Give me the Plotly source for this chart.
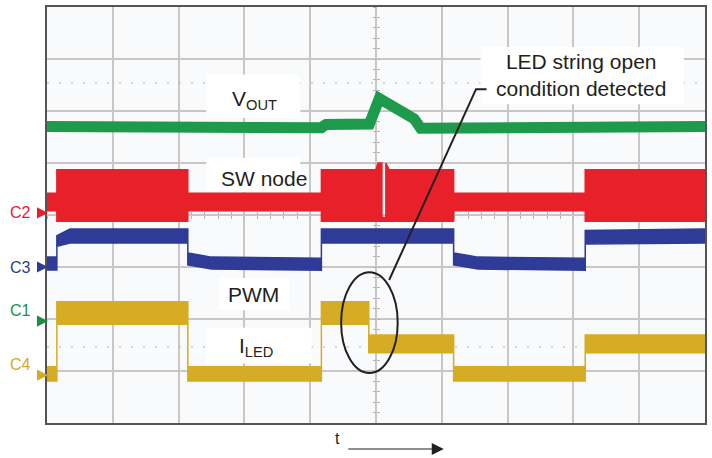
import plotly.graph_objects as go

# scope screen: 10 divisions across, 8 divisions high
# VOUT (green) - centre of the trace band
GRN_X = [0, 0.15, 4.17, 4.24, 4.9, 5.05, 5.58, 5.68, 8.23, 8.26, 10]
GRN_Y = [5.70, 5.70, 5.68, 5.74, 5.75, 6.24, 5.85, 5.67, 5.66, 5.70, 5.70]

# SW node (red) - envelope of the switching band
RED_X = [0, 0.15, 0.15, 2.14, 2.14, 4.17, 4.17, 5.0, 5.03, 5.09, 5.09, 5.15, 5.15, 5.2, 6.18, 6.18, 8.18, 8.18, 10]
RED_TOP = [4.42, 4.42, 4.87, 4.87, 4.42, 4.42, 4.87, 4.87, 5.0, 5.0, 3.95, 3.95, 5.0, 4.87, 4.87, 4.42, 4.42, 4.87, 4.87]
RED_BOT = [4.08, 4.08, 3.88, 3.88, 4.08, 4.08, 3.88, 3.88, 3.88, 3.88, 3.88, 3.88, 3.88, 3.88, 3.88, 4.08, 4.08, 3.88, 3.88]

# PWM (blue)
BLU_X = [0, 0.15, 0.15, 0.35, 2.14, 2.14, 2.5, 4.17, 4.17, 6.18, 6.18, 6.55, 8.18, 8.18, 10]
BLU_TOP = [3.19, 3.19, 3.60, 3.73, 3.73, 3.27, 3.19, 3.17, 3.73, 3.73, 3.27, 3.19, 3.17, 3.70, 3.73]
BLU_BOT = [2.94, 2.94, 3.40, 3.46, 3.46, 3.04, 2.96, 2.94, 3.46, 3.46, 3.04, 2.96, 2.94, 3.44, 3.46]

# ILED (yellow)
YEL_X = [0, 0.15, 0.15, 2.14, 2.14, 4.17, 4.17, 4.89, 4.89, 6.18, 6.18, 8.18, 8.18, 10]
YEL_TOP = [1.08, 1.08, 2.33, 2.33, 1.08, 1.08, 2.33, 2.33, 1.69, 1.69, 1.08, 1.08, 1.69, 1.69]
YEL_BOT = [0.81, 0.81, 1.90, 1.90, 0.81, 0.81, 1.90, 1.90, 1.35, 1.35, 0.81, 0.81, 1.35, 1.35]

# channel ground markers (level in divisions)
CH_NAMES = ['C2', 'C3', 'C1', 'C4']
CH_LEVELS = [4.04, 3.0, 1.96, 0.92]
CH_COLORS = ['#e8202a', '#2e3b97', '#1a8f45', '#d4aa22']

GREEN = '#1d9a4b'
RED = '#e8202a'
BLUE = '#2e3b97'
YELLOW = '#d6ac24'
INK = '#231f20'
FONT = 'Liberation Sans, Arial, sans-serif'


def band(xs, top, bot, color):
    return go.Scatter(
        x=xs + xs[::-1], y=top + bot[::-1],
        mode='lines', fill='toself', fillcolor=color,
        line=dict(color=color, width=1.5),
        hoverinfo='skip', showlegend=False)


fig = go.Figure()

fig.add_trace(go.Scatter(x=GRN_X, y=GRN_Y, mode='lines',
                         line=dict(color=GREEN, width=11),
                         hoverinfo='skip', showlegend=False))
fig.add_trace(band(RED_X, RED_TOP, RED_BOT, RED))
fig.add_trace(band(BLU_X, BLU_TOP, BLU_BOT, BLUE))
fig.add_trace(band(YEL_X, YEL_TOP, YEL_BOT, YELLOW))

# dummy traces so the centre tick axes get drawn
fig.add_trace(go.Scatter(x=[], y=[], xaxis='x2', yaxis='y', showlegend=False))
fig.add_trace(go.Scatter(x=[], y=[], xaxis='x3', yaxis='y', showlegend=False))
fig.add_trace(go.Scatter(x=[], y=[], xaxis='x', yaxis='y2', showlegend=False))
fig.add_trace(go.Scatter(x=[], y=[], xaxis='x', yaxis='y3', showlegend=False))

# ground markers left of the screen (paper coords: 660 px wide, 416 px tall)
for name, lvl, col in zip(CH_NAMES, CH_LEVELS, CH_COLORS):
    py = lvl / 8
    fig.add_annotation(x=-0.021, y=py, xref='paper', yref='paper', text=name,
                       showarrow=False, xanchor='right',
                       font=dict(size=16, color=col, family=FONT))
    fig.add_shape(type='path', xref='paper', yref='paper',
                  path=f'M -0.0152 {py + 0.0135:.4f} L 0.0015 {py:.4f} '
                       f'L -0.0152 {py - 0.0135:.4f} Z',
                  fillcolor=col, line=dict(width=0))

# white label boxes (over grid, under traces)
boxes = [(2.42, 5.87, 3.85, 6.70), (2.42, 4.44, 3.85, 5.10),
         (2.62, 2.17, 3.68, 2.79), (2.42, 1.15, 4.02, 1.83),
         (6.59, 6.13, 9.68, 7.23)]
for x0, y0, x1, y1 in boxes:
    fig.add_shape(type='rect', x0=x0, y0=y0, x1=x1, y1=y1, layer='between',
                  fillcolor='white', line=dict(width=0))

# dotted cursor lines
for yc in [6.54, 1.46]:
    fig.add_shape(type='line', x0=0, x1=10, y0=yc, y1=yc, layer='below',
                  line=dict(color='#cfcaca', width=1.5, dash='2px,10px'))

labels = [
    (3.15, 6.21, 'V<sub>OUT</sub>'),
    (3.30, 4.71, 'SW node'),
    (3.14, 2.48, 'PWM'),
    (3.18, 1.46, 'I<sub>LED</sub>'),
    (8.12, 6.69, 'LED string open<br>condition detected'),
]
for x, y, txt in labels:
    fig.add_annotation(x=x, y=y, text=txt, showarrow=False,
                       font=dict(size=21, color=INK, family=FONT))

# circle around the ILED step and the leader line
fig.add_shape(type='circle', x0=4.47, x1=5.33, y0=0.96, y1=2.90,
              line=dict(color=INK, width=2))
fig.add_shape(type='path', path='M 5.20 2.75 L 6.52 6.42 L 6.68 6.42',
              line=dict(color=INK, width=2))

# time arrow under the screen
fig.add_annotation(x=0.441, y=-0.0625, xref='paper', yref='paper', text='t',
                   showarrow=False, font=dict(size=16, color=INK, family=FONT))
fig.add_annotation(x=0.603, y=-0.0625, xref='paper', yref='paper',
                   ax=-97, ay=0, text='', showarrow=True,
                   arrowhead=2, arrowsize=2, arrowwidth=1.2, arrowcolor=INK)

tick_axis = dict(range=[0, 10], anchor='free', position=0.5, overlaying='x',
                 showgrid=False, showline=False, zeroline=False,
                 showticklabels=False, tick0=0, dtick=0.2, ticklen=3,
                 tickwidth=1, tickcolor='#b8b2b2', layer='below traces')
ytick_axis = dict(tick_axis, range=[0, 8], overlaying='y')

fig.update_layout(
    width=712, height=458,
    margin=dict(l=47, r=5, t=7, b=35),
    paper_bgcolor='white',
    plot_bgcolor='#f8fafb',
    font=dict(family=FONT, color=INK),
    showlegend=False,
    xaxis=dict(range=[0, 10], tick0=0, dtick=1, showgrid=True,
               gridcolor='#cbc6c6', gridwidth=2, showticklabels=False,
               ticks='', zeroline=False, showline=True, mirror=True,
               linecolor='#555555', linewidth=2, fixedrange=True),
    yaxis=dict(range=[0, 8], tick0=0, dtick=1, showgrid=True,
               gridcolor='#cbc6c6', gridwidth=2, showticklabels=False,
               ticks='', zeroline=False, showline=True, mirror=True,
               linecolor='#555555', linewidth=2, fixedrange=True),
    xaxis2=dict(tick_axis, ticks='outside'),
    xaxis3=dict(tick_axis, ticks='inside'),
    yaxis2=dict(ytick_axis, ticks='outside'),
    yaxis3=dict(ytick_axis, ticks='inside'),
)

fig.write_html("out.html", config={'displayModeBar': False},
               post_script="document.body.style.margin='0';")
